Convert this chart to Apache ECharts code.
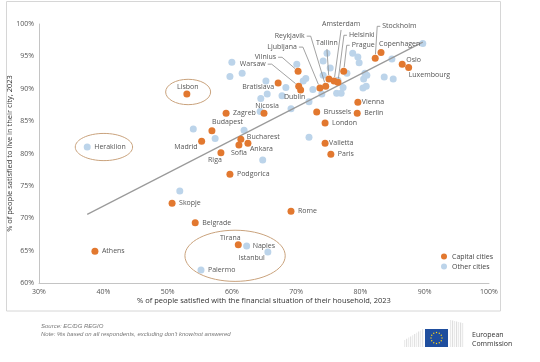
<!DOCTYPE html>
<html><head><meta charset="utf-8">
<script src="https://cdn.jsdelivr.net/npm/echarts@6/dist/echarts.min.js"></script>
<style>html,body{margin:0;padding:0;background:#fff}#c{width:540px;height:362px}</style>
</head><body><div id="c"></div>
<script>
// ---------------- DATA ----------------
const capitalNames = ['Athens','Lisbon','Skopje','Belgrade','Tirana','Podgorica','Riga','Sofia','Bucharest','Ankara','Madrid','Budapest','Zagreb','Nicosia','Bratislava','Vilnius','Warsaw','Dublin','Ljubljana','Reykjavik','Tallinn','Amsterdam','Helsinki','Prague','Stockholm','Copenhagen','Oslo','Luxembourg','Vienna','Berlin','Brussels','London','Valletta','Paris','Rome'];
const capitalX = [38.7,53.0,50.7,54.3,61.0,59.7,58.3,61.1,61.4,62.5,55.3,56.9,59.1,65.0,67.2,70.3,70.4,70.7,73.7,74.6,75.1,75.9,76.5,77.4,82.3,83.2,86.5,87.5,79.6,79.5,73.2,74.5,74.5,75.4,69.2];
const capitalY = [64.9,89.2,72.3,69.3,65.9,76.8,80.1,81.3,82.2,81.6,81.9,83.5,86.2,86.2,90.9,92.7,90.4,89.8,90.1,90.4,91.5,91.2,91.0,92.7,94.7,95.6,93.8,93.3,87.9,86.2,86.4,84.7,81.6,79.9,71.1];

const otherNames = ['Heraklion','Naples','Istanbul','Palermo','','','','','','','','','','','','','','','','','','','','','','','','','','','','','','','','','','','','','','','','','','',''];
const otherX = [37.5,62.3,65.6,55.2,60.0,61.6,59.7,65.3,65.5,64.5,64.4,54.0,57.4,61.9,64.8,51.9,70.1,71.5,71.1,68.4,72.6,67.8,72.0,69.2,72.0,74.8,74.2,75.3,74.2,74.0,76.3,77.0,77.3,76.5,77.9,78.8,79.6,79.8,80.7,81.0,80.5,80.4,80.9,83.7,85.1,89.7,84.9];
const otherY = [81.0,65.7,64.8,62.0,94.1,92.4,91.9,91.2,89.2,88.5,86.5,83.8,82.3,83.6,79.0,74.2,93.8,91.6,91.2,90.2,89.9,88.9,88.0,86.9,82.5,95.5,94.3,93.2,92.1,89.2,89.3,89.3,90.2,91.3,92.4,95.5,94.9,94.0,92.4,92.1,91.5,90.1,90.4,91.8,91.5,97.0,94.6];

const trendX = [37.5, 89.7];
const trendY = [70.6, 97.2];

const seriesNames = ['Capital cities', 'Other cities'];
const xTitle = '% of people satisfied with the financial situation of their household, 2023';
const yTitle = '% of people satisfied to live in their city, 2023';
const sourceText = 'Source: EC/DG REGIO';
const noteText = "Note: %s based on all respondents, excluding don't know/not answered";

// ---------------- STYLE ----------------
const ORANGE = '#e2782f';
const BLUE = '#bcd4ea';
const FONT = '"Open Sans", sans-serif';
const LABEL_DEFAULT = {dx: 7, dy: 0, align: 'left'};
const LABEL_POS = {
  Lisbon: {dx: 1, dy: -7, align: 'center'},
  Tirana: {dx: -8, dy: -7, align: 'center'},
  Riga: {dx: -6, dy: 7, align: 'center'},
  Sofia: {dx: 0, dy: 8, align: 'center'},
  Bucharest: {dx: 6, dy: -2, align: 'left'},
  Ankara: {dx: 2, dy: 6, align: 'left'},
  Madrid: {dx: -4, dy: 6, align: 'right'},
  Budapest: {dx: 0, dy: -9, align: 'left'},
  Nicosia: {dx: 3, dy: -7, align: 'center'},
  Bratislava: {dx: -4, dy: 4, align: 'right'},
  Vilnius: {dx: -22, dy: -14, align: 'right', leader: true},
  Warsaw: {dx: -33, dy: -22, align: 'right', leader: true},
  Dublin: {dx: -6, dy: 7, align: 'center'},
  Ljubljana: {dx: -23, dy: -41, align: 'right', leader: true},
  Reykjavik: {dx: -21, dy: -50, align: 'right', leader: true},
  Tallinn: {dx: -2, dy: -36, align: 'center', leader: true},
  Amsterdam: {dx: 7, dy: -57, align: 'center', leader: true},
  Helsinki: {dx: 11, dy: -47, align: 'left', leader: true},
  Prague: {dx: 8, dy: -26, align: 'left', leader: true},
  Stockholm: {dx: 7, dy: -32, align: 'left', leader: true},
  Copenhagen: {dx: -2, dy: -8, align: 'left'},
  Oslo: {dx: 4, dy: -4, align: 'left'},
  Luxembourg: {dx: 0, dy: 8, align: 'left'},
  Vienna: {dx: 4, dy: 0, align: 'left'},
  Valletta: {dx: 4, dy: 0, align: 'left'},
  Naples: {dx: 6, dy: 0, align: 'left'},
  Istanbul: {dx: -3, dy: 6, align: 'right'}
};
// annotation ellipses in data units
const ELLIPSES = [
  {cx: 53.2, cy: 89.5, rx: 3.5, ry: 1.96},
  {cx: 40.1, cy: 81.0, rx: 4.46, ry: 2.1},
  {cx: 60.5, cy: 64.2, rx: 7.8, ry: 3.95}
];

function makeLayout(names) {
  return function (p) {
    const n = names[p.dataIndex];
    const s = LABEL_POS[n] || LABEL_DEFAULT;
    const cx = p.rect.x + p.rect.width / 2, cy = p.rect.y + p.rect.height / 2;
    return {x: cx + s.dx, y: cy + s.dy, align: s.align, verticalAlign: 'middle'};
  };
}

const chart = echarts.init(document.getElementById('c'), null, {renderer: 'canvas'});
const labelStyle = {show: true, formatter: '{b}', fontSize: 7, color: '#555', fontFamily: FONT};

chart.setOption({
  animation: false,
  grid: {left: 39, right: 51, top: 24, bottom: 79, outerBoundsMode: 'none', containLabel: false},
  xAxis: {
    type: 'value', min: 30, max: 100, interval: 10,
    splitLine: {show: false}, axisTick: {show: false},
    axisLine: {show: true, lineStyle: {color: '#c4c4c4', width: 1}},
    axisLabel: {formatter: '{value}%', fontSize: 7, color: '#555', fontFamily: FONT, margin: 5},
    name: xTitle, nameLocation: 'middle', nameGap: 14, nameMoveOverlap: false,
    nameTextStyle: {fontSize: 7.5, color: '#333', fontFamily: FONT}
  },
  yAxis: {
    type: 'value', min: 60, max: 100, interval: 5,
    splitLine: {show: false}, axisTick: {show: false},
    axisLine: {show: true, lineStyle: {color: '#c4c4c4', width: 1}},
    axisLabel: {formatter: '{value}%', fontSize: 7, color: '#555', fontFamily: FONT, margin: 5},
    name: yTitle, nameLocation: 'middle', nameGap: 25, nameRotate: 90, nameMoveOverlap: false,
    nameTextStyle: {fontSize: 7.5, color: '#333', fontFamily: FONT}
  },
  legend: {
    data: [seriesNames[0], seriesNames[1]],
    orient: 'vertical', left: 436, top: 248, icon: 'circle',
    itemWidth: 6, itemHeight: 6, itemGap: 3, itemTextGap: 2,
    textStyle: {fontSize: 7, color: '#444', fontFamily: FONT}
  },
  series: [
    {
      name: seriesNames[1], type: 'scatter', symbolSize: 7,
      itemStyle: {color: BLUE, opacity: 1},
      data: otherX.map((x, i) => ({name: otherNames[i], value: [x, otherY[i]]})),
      label: labelStyle, labelLayout: makeLayout(otherNames), z: 2
    },
    {
      name: 'trend', type: 'line', showSymbol: false, symbol: 'none', silent: true,
      lineStyle: {color: '#9a9a9a', width: 1.2},
      data: trendX.map((x, i) => [x, trendY[i]]), z: 3
    },
    {
      name: seriesNames[0], type: 'scatter', symbolSize: 7,
      itemStyle: {color: ORANGE, opacity: 1},
      data: capitalX.map((x, i) => ({name: capitalNames[i], value: [x, capitalY[i]]})),
      label: labelStyle, labelLayout: makeLayout(capitalNames), z: 4
    }
  ]
});

// ---------------- annotations ----------------
const g = [];
g.push({type: 'rect', shape: {x: 6.5, y: 1.5, width: 494, height: 309.5}, style: {fill: 'none', stroke: '#d6d6d6', lineWidth: 1}, z: 0});
ELLIPSES.forEach(e => {
  const c = chart.convertToPixel({gridIndex: 0}, [e.cx, e.cy]);
  const r = chart.convertToPixel({gridIndex: 0}, [e.cx + e.rx, e.cy + e.ry]);
  g.push({type: 'ellipse', shape: {cx: c[0], cy: c[1], rx: Math.abs(r[0] - c[0]), ry: Math.abs(c[1] - r[1])},
    style: {fill: 'none', stroke: '#c9a27c', lineWidth: 1}, z: 5, silent: true});
});
capitalNames.forEach((n, i) => {
  const s = LABEL_POS[n];
  if (!s || !s.leader) return;
  const d = chart.convertToPixel({seriesIndex: 2}, [capitalX[i], capitalY[i]]);
  const ax = d[0] + s.dx, ay = d[1] + s.dy;
  let pts;
  function toward(px, py) {
    const vx = px - d[0], vy = py - d[1], L = Math.sqrt(vx * vx + vy * vy) || 1;
    return [d[0] + vx / L * 4, d[1] + vy / L * 4];
  }
  if (s.align === 'right') {
    const p1 = [ax + 2, ay], p2 = [ax + 6, ay];
    pts = [p1, p2, toward(p2[0], p2[1])];
  } else if (s.align === 'left') {
    const p1 = [ax - 2, ay], p2 = [ax - 5, ay];
    pts = [p1, p2, toward(p2[0], p2[1])];
  } else {
    const p1 = [ax, ay + 6];
    pts = [p1, toward(p1[0], p1[1])];
  }
  g.push({type: 'polyline', shape: {points: pts}, style: {stroke: '#8a8a8a', lineWidth: 0.8, fill: 'none'}, z: 3, silent: true});
});
g.push({type: 'text', left: 41, top: 323, style: {text: sourceText, fontSize: 6, fontStyle: 'italic', fill: '#777', fontFamily: '"Liberation Sans", Arial, sans-serif'}});
g.push({type: 'text', left: 41, top: 331, style: {text: noteText, fontSize: 6, fontStyle: 'italic', fill: '#777', fontFamily: '"Liberation Sans", Arial, sans-serif'}});
for (let k = 0; k < 10; k++) {
  g.push({type: 'rect', shape: {x: 404 + k * 2, y: 340 - k * 1.2, width: 1.2, height: 7 + k * 1.2}, style: {fill: k % 2 ? '#e2e2e2' : '#ececec'}});
}
for (let k = 0; k < 7; k++) {
  g.push({type: 'rect', shape: {x: 450 + k * 2, y: 320 + k * 0.5, width: 1.2, height: 27 - k * 0.5}, style: {fill: k % 2 ? '#dedede' : '#eaeaea'}});
}
g.push({type: 'rect', shape: {x: 425, y: 329, width: 23, height: 18}, style: {fill: '#1f4e9e'}});
for (let k = 0; k < 12; k++) {
  const a = k * Math.PI / 6;
  g.push({type: 'circle', shape: {cx: 436.5 + 5.5 * Math.cos(a), cy: 338 + 5.5 * Math.sin(a), r: 0.7}, style: {fill: '#ffd617'}});
}
g.push({type: 'text', left: 472, top: 331, style: {text: 'European', fontSize: 7, fill: '#333', fontFamily: FONT}});
g.push({type: 'text', left: 472, top: 340, style: {text: 'Commission', fontSize: 7, fill: '#333', fontFamily: FONT}});

chart.setOption({graphic: g});
</script>
</body></html>
